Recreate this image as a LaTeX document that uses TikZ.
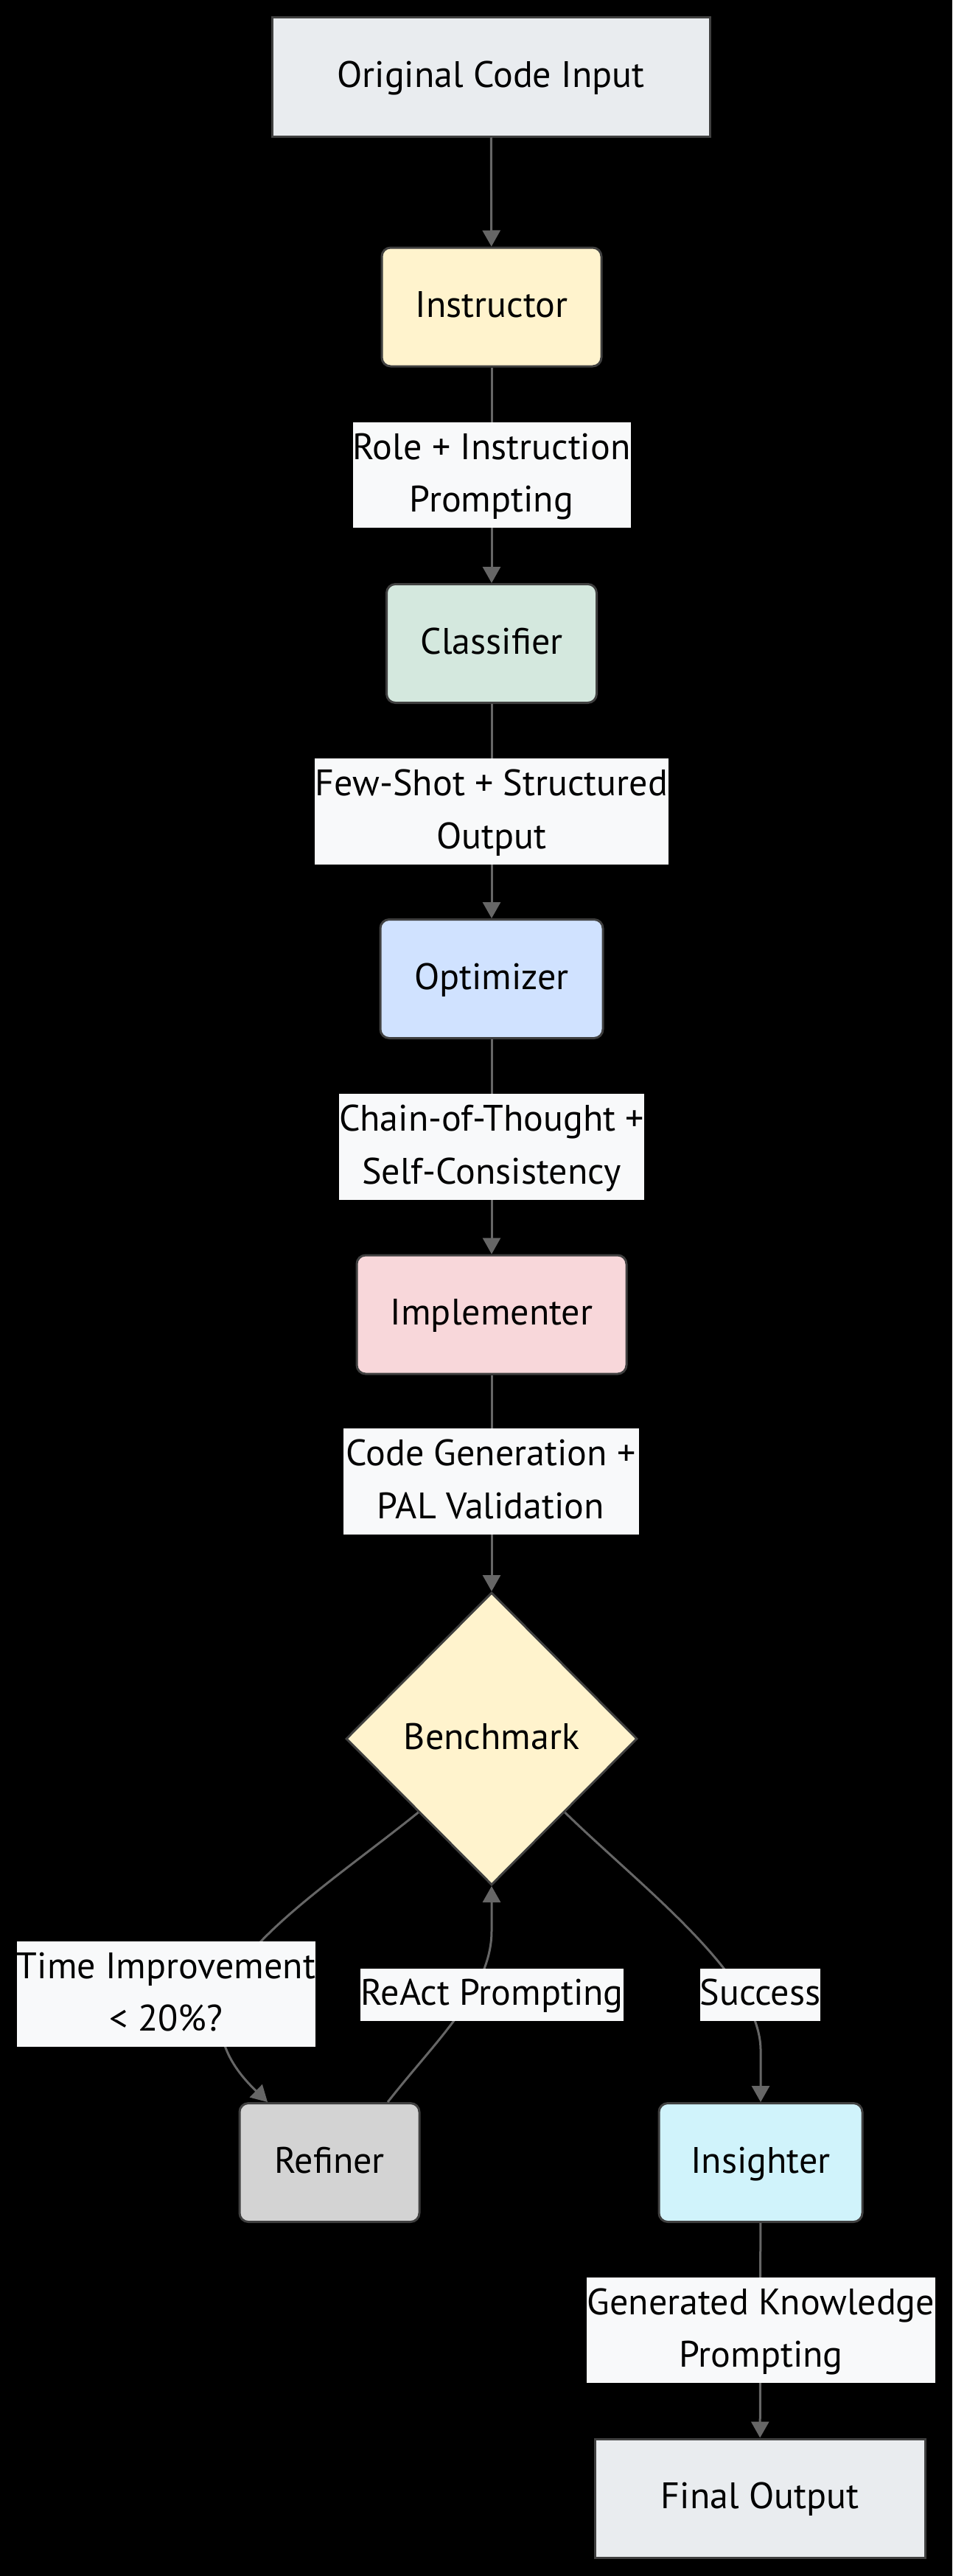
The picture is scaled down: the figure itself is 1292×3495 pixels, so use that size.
\documentclass[tikz,border=0pt]{standalone}
\usepackage{fontspec}
\setmainfont{PT Sans}
\usetikzlibrary{shapes.geometric,arrows.meta,calc}
\definecolor{edgecol}{HTML}{666666}
\definecolor{bordercol}{HTML}{404040}
\definecolor{ioFill}{HTML}{E9ECEF}
\definecolor{yelFill}{HTML}{FFF3CD}
\definecolor{grnFill}{HTML}{D4E8DE}
\definecolor{bluFill}{HTML}{D0E2FF}
\definecolor{redFill}{HTML}{F8D7DA}
\definecolor{gryFill}{HTML}{D3D3D3}
\definecolor{cyaFill}{HTML}{D0F3FB}
\definecolor{lblFill}{HTML}{F8F9FA}
\newcommand{\ntext}[1]{\renewcommand{\arraystretch}{0.98}\begin{tabular}{@{}c@{}}#1\end{tabular}}
\begin{document}
\begin{tikzpicture}[x=0.5pt,y=-0.5pt,
  txt/.style={font=\fontsize{25}{36.5}\selectfont, text=black},
  basebox/.style={txt, draw=bordercol, line width=1.5pt, inner sep=0pt, minimum height=80.5pt},
  sqbox/.style={basebox},
  rbox/.style={basebox, rounded corners=6pt},
  decision/.style={txt, diamond, aspect=1, draw=bordercol, line width=1.5pt, inner sep=0pt, fill=yelFill, minimum width=197.5pt, minimum height=198.5pt},
  lbl/.style={txt, fill=lblFill, inner sep=0pt},
  lbltwo/.style={lbl, minimum height=71.5pt},
  lblone/.style={lbl, minimum height=35.5pt},
  edge/.style={draw=edgecol, line width=1.5pt, -{Triangle[width=12pt,length=11pt]}},
]
\fill[black] (0,0) rectangle (1292,3495);
\useasboundingbox (0,0) rectangle (1292,3495);

% nodes
\node[sqbox, fill=ioFill, minimum width=297pt] (orig) at (666,104.5) {\ntext{Original Code Input}};
\node[rbox, fill=yelFill, minimum width=149pt] (instr) at (667,416.5) {\ntext{Instructor}};
\node[rbox, fill=grnFill, minimum width=142.5pt] (class) at (667,873) {\ntext{Classifier}};
\node[rbox, fill=bluFill, minimum width=151pt] (opt) at (667,1328) {\ntext{Optimizer}};
\node[rbox, fill=redFill, minimum width=183pt] (impl) at (667,1783.5) {\ntext{Implementer}};
\node[decision] (bench) at (667,2359) {\ntext{Benchmark}};
\node[rbox, fill=gryFill, minimum width=122pt] (ref) at (447,2934) {\ntext{Refiner}};
\node[rbox, fill=cyaFill, minimum width=138pt] (ins) at (1032,2934) {\ntext{Insighter}};
\node[sqbox, fill=ioFill, minimum width=224pt] (final) at (1031,3389.5) {\ntext{Final Output}};

% connector end points
\coordinate (refIn) at ($(ref.north west)!0.16!(ref.north east)$);
\coordinate (refOut) at ($(ref.north west)!0.82!(ref.north east)$);

% connectors
\draw[edge] (orig) -- (instr);
\draw[edge] (instr) -- (class);
\draw[edge] (class) -- (opt);
\draw[edge] (opt) -- (impl);
\draw[edge] (impl) -- (bench.north);
\draw[edge] (bench.south west) .. controls (455,2550) and (298,2650) .. (298,2735)
  .. controls (298,2785) and (328,2818) .. (refIn);
\draw[edge] (refOut) .. controls (590,2770) and (667,2700) .. (667,2620) -- (bench.south);
\draw[edge] (bench.south east) .. controls (870,2560) and (1030,2680) .. (1032,2780) -- (ins.north);
\draw[edge] (ins) -- (final);

% labels
\node[lbltwo, minimum width=188.5pt] (l1) at (667,644.5) {\ntext{Role + Instruction\\Prompting}};
\node[lbltwo, minimum width=240pt] (l2) at (667,1101) {\ntext{Few-Shot + Structured\\Output}};
\node[lbltwo, minimum width=207pt] (l3) at (667,1556) {\ntext{Chain-of-Thought +\\Self-Consistency}};
\node[lbltwo, minimum width=200.5pt] (l4) at (666,2010) {\ntext{Code Generation +\\PAL Validation}};
\node[lbltwo, minimum width=202.5pt] (l5) at (225.5,2705.5) {\ntext{Time Improvement\\< 20\%?}};
\node[lblone, minimum width=178.5pt] (l6) at (667.5,2706.5) {\ntext{ReAct Prompting}};
\node[lblone, minimum width=80.5pt] (l7) at (1031.5,2706.5) {\ntext{Success}};
\node[lbltwo, minimum width=236.5pt] (l8) at (1032.5,3161.5) {\ntext{Generated Knowledge\\Prompting}};
\end{tikzpicture}
\end{document}
